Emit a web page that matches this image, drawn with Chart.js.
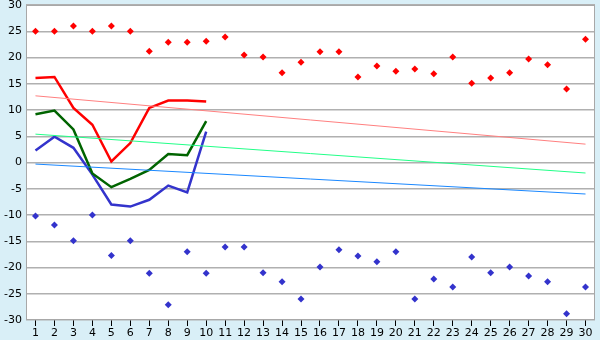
<!DOCTYPE html>
<html>
<head>
<meta charset="utf-8">
<script src="https://cdn.jsdelivr.net/npm/chart.js@4"></script>
<style>
  html, body { margin: 0; padding: 0; background: #d9eff7; }
  #wrap { width: 600px; height: 340px; }
</style>
</head>
<body>
<div id="wrap"><canvas id="chart" width="600" height="340"></canvas></div>
<script>
const days = [1,2,3,4,5,6,7,8,9,10,11,12,13,14,15,16,17,18,19,20,21,22,23,24,25,26,27,28,29,30];
const yTicks = [-30,-25,-20,-15,-10,-5,0,5,10,15,20,25,30];

// daily maximum / minimum points
const maxPoints = [25,25,26,25,26,25,21.2,22.9,22.9,23.1,23.9,20.5,20.1,17.1,19.1,21.1,21.1,16.3,18.4,17.4,17.8,16.9,20.1,15.1,16.1,17.1,19.7,18.6,14.0,23.5];
const minPoints = [-10.2,-11.9,-14.9,-10.0,-17.7,-14.9,-21.1,-27.1,-17.0,-21.1,-16.1,-16.1,-21.0,-22.7,-26.0,-19.9,-16.6,-17.8,-18.9,-17.0,-26.0,-22.2,-23.7,-18.0,-21.0,-19.9,-21.6,-22.7,-28.8,-23.7];

// lines for the first ten days
const lineDays = [1,2,3,4,5,6,7,8,9,10];
const redLine = [16.1,16.3,10.4,7.2,0.2,3.7,10.4,11.8,11.8,11.6];
const greenLine = [9.2,9.9,6.3,-2.1,-4.7,-3.1,-1.4,1.6,1.4,7.9];
const blueLine = [2.3,4.9,2.8,-2.3,-8.0,-8.4,-7.1,-4.4,-5.7,5.9];

// trend lines (start at day 1, end at day 30)
const trendDays = [1, 30];
const trendRed = [12.7, 3.5];
const trendGreen = [5.4, -2.0];
const trendBlue = [-0.3, -6.0];

function pts(xs, ys) {
    return ys.map((y, i) => ({ x: xs[i], y: y }));
}

const plotFrame = {
    id: 'plotFrame',
    beforeDraw(chart) {
        const { ctx, chartArea: a } = chart;
        ctx.save();
        ctx.fillStyle = '#ffffff';
        ctx.fillRect(a.left, a.top, a.right - a.left, a.bottom - a.top);
        ctx.restore();
    },
    afterDraw(chart) {
        const { ctx, chartArea: a } = chart;
        ctx.save();
        ctx.strokeStyle = '#a8a8a8';
        ctx.lineWidth = 1;
        ctx.strokeRect(a.left + 0.5, a.top + 0.5, a.right - a.left - 1, a.bottom - a.top - 1);
        ctx.restore();
    }
};

function lineSet(data, color, width) {
    return {
        type: 'line',
        data: data,
        borderColor: color,
        backgroundColor: color,
        borderWidth: width,
        pointRadius: 0,
        tension: 0,
        fill: false
    };
}

function pointSet(data, color) {
    return {
        type: 'scatter',
        data: data,
        showLine: false,
        pointStyle: 'rectRot',
        pointRadius: 3.5,
        borderWidth: 0,
        backgroundColor: color,
        borderColor: color
    };
}

new Chart(document.getElementById('chart'), {
    type: 'scatter',
    data: {
        datasets: [
            lineSet(pts(trendDays, trendRed), '#ff8080', 1),
            lineSet(pts(trendDays, trendGreen), '#22ff88', 1),
            lineSet(pts(trendDays, trendBlue), '#1a88ff', 1),
            lineSet(pts(lineDays, redLine), '#ff0000', 2.5),
            lineSet(pts(lineDays, greenLine), '#006400', 2.5),
            lineSet(pts(lineDays, blueLine), '#3333cc', 2.5),
            pointSet(pts(days, maxPoints), '#ff0000'),
            pointSet(pts(days, minPoints), '#3333cc')
        ]
    },
    options: {
        responsive: false,
        animation: false,
        layout: { padding: { top: 5, right: 5, left: 0, bottom: 0 } },
        plugins: {
            legend: { display: false },
            tooltip: { enabled: false }
        },
        scales: {
            x: {
                type: 'linear',
                min: 0.5,
                max: 30.5,
                afterBuildTicks: axis => { axis.ticks = days.map(v => ({ value: v })); },
                afterFit: axis => { axis.height = 20; axis.paddingLeft = 0; axis.paddingRight = 0; },
                border: { display: false },
                grid: {
                    drawOnChartArea: false,
                    drawTicks: true,
                    tickLength: 6,
                    color: '#000000'
                },
                ticks: {
                    padding: 1,
                    maxRotation: 0,
                    autoSkip: false,
                    color: '#000000',
                    font: { family: 'DejaVu Sans', size: 11 }
                }
            },
            y: {
                min: -30,
                max: 30,
                afterBuildTicks: axis => { axis.ticks = yTicks.map(v => ({ value: v })); },
                afterFit: axis => { axis.width = 26; axis.paddingTop = 0; axis.paddingBottom = 0; },
                border: { display: false },
                grid: {
                    drawTicks: false,
                    color: '#b0b0b0',
                    lineWidth: 1.5
                },
                ticks: {
                    padding: 4,
                    color: '#000000',
                    font: { family: 'DejaVu Sans', size: 11 }
                }
            }
        }
    },
    plugins: [plotFrame]
});
</script>
</body>
</html>
